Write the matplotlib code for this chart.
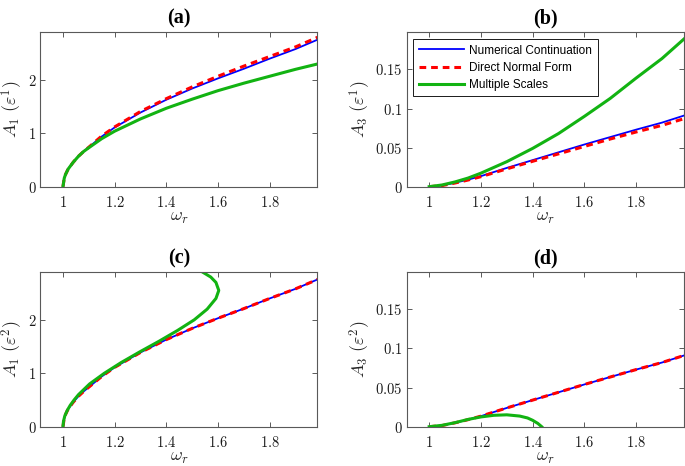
import numpy as np
import matplotlib
matplotlib.use("Agg")
import matplotlib.pyplot as plt
from matplotlib.ticker import FuncFormatter

# ============================================================================
# data
# ============================================================================

# A1, first order (panel a)
w_a_num = [1.0, 1.005, 1.01, 1.02, 1.04, 1.06, 1.08, 1.1, 1.15, 1.2, 1.3, 1.4, 1.5, 1.6, 1.7, 1.8, 1.9, 1.985]
A1_num = [0.0, 0.16, 0.23, 0.33, 0.46, 0.57, 0.66, 0.74, 0.94, 1.11, 1.39, 1.63, 1.84, 2.03, 2.21, 2.40, 2.58, 2.755]
A1_dnf_a = [0.0, 0.16, 0.23, 0.33, 0.46, 0.57, 0.66, 0.74, 0.95, 1.12, 1.41, 1.65, 1.87, 2.07, 2.26, 2.44, 2.62, 2.80]
w_a_ms = [1.0, 1.005, 1.01, 1.02, 1.04, 1.06, 1.08, 1.1, 1.15, 1.2, 1.3, 1.4, 1.5, 1.6, 1.7, 1.8, 1.9, 1.985]
A1_ms_a = [0.0, 0.16, 0.23, 0.33, 0.46, 0.57, 0.66, 0.73, 0.90, 1.04, 1.27, 1.47, 1.64, 1.80, 1.94, 2.07, 2.20, 2.30]

# A3, first order (panel b)
w_b = [1.0, 1.05, 1.1, 1.15, 1.2, 1.3, 1.4, 1.5, 1.6, 1.7, 1.8, 1.9, 1.985]
A3_num = [0.0, 0.0015, 0.005, 0.009, 0.0135, 0.024, 0.034, 0.044, 0.054, 0.0635, 0.073, 0.082, 0.091]
A3_dnf_b = [0.0, 0.0014, 0.0047, 0.0085, 0.0128, 0.0228, 0.0325, 0.042, 0.0515, 0.061, 0.070, 0.0785, 0.087]
A3_ms_b = [0.0, 0.0022, 0.0061, 0.011, 0.0173, 0.032, 0.049, 0.068, 0.090, 0.113, 0.139, 0.164, 0.189]

# A1, second order (panel c): multiple scales folds back, so given as w(A)
A1_ms_c = [0.0, 0.1, 0.2, 0.3, 0.4, 0.5, 0.6, 0.8, 1.0, 1.2, 1.4, 1.6, 1.8, 2.0, 2.2, 2.4, 2.55, 2.7, 2.8, 2.9]
w_c_ms = [1.0, 1.002, 1.007, 1.016, 1.028, 1.043, 1.06, 1.103, 1.16, 1.225, 1.297, 1.372, 1.443, 1.508, 1.558, 1.592, 1.603, 1.592, 1.572, 1.538]

# A3, second order (panel d)
w_d_ms = [1.0, 1.05, 1.1, 1.15, 1.2, 1.25, 1.3, 1.35, 1.38, 1.4, 1.42, 1.435]
A3_ms_d = [0.0, 0.0018, 0.0052, 0.0093, 0.0125, 0.0146, 0.0152, 0.0136, 0.0112, 0.0082, 0.0042, 0.0]

xticks = [1, 1.2, 1.4, 1.6, 1.8]
yticks_A1 = [0, 1, 2]
yticks_A3 = [0, 0.05, 0.1, 0.15]
titles = ["(a)", "(b)", "(c)", "(d)"]
ylabels = [r"$A_1\ (\varepsilon^1)$", r"$A_3\ (\varepsilon^1)$",
           r"$A_1\ (\varepsilon^2)$", r"$A_3\ (\varepsilon^2)$"]

# ============================================================================
# style
# ============================================================================

plt.rcParams.update({'mathtext.fontset': 'cm', 'font.size': 9})
blue = '#0000ff'
red = '#ff0000'
green = '#12b312'
axcol = '0.35'

fig = plt.figure(figsize=(6.85, 4.66), dpi=100)
positions = [[0.0591, 0.5994, 0.4044, 0.332],
             [0.5937, 0.5994, 0.4048, 0.332],
             [0.0591, 0.0843, 0.4044, 0.3326],
             [0.5937, 0.0843, 0.4048, 0.3326]]
axes = [fig.add_axes(p) for p in positions]

fmt = FuncFormatter(lambda v, pos: r"$%g$" % round(v, 3))
dash = (0, (2.2, 1.6))

# panel a
ax = axes[0]
ax.plot(w_a_num, A1_num, color=blue, lw=1.3)
ax.plot(w_a_num, A1_dnf_a, color=red, lw=2.2, ls=dash)
ax.plot(w_a_ms, A1_ms_a, color=green, lw=2.2)

# panel b
ax = axes[1]
ax.plot(w_b, A3_num, color=blue, lw=1.3, label="Numerical Continuation")
ax.plot(w_b, A3_dnf_b, color=red, lw=2.2, ls=dash, label="Direct Normal Form")
ax.plot(w_b, A3_ms_b, color=green, lw=2.2, label="Multiple Scales")
leg = ax.legend(loc='upper left', bbox_to_anchor=(0.024, 0.953),
                prop={'family': 'Liberation Sans', 'size': 8.5},
                fancybox=False, framealpha=1, edgecolor='0.1',
                handlelength=3.8, labelspacing=0.45, borderpad=0.45,
                handletextpad=0.5, borderaxespad=0)
leg.get_frame().set_linewidth(0.7)

# panel c
ax = axes[2]
ax.plot(w_a_num, A1_num, color=blue, lw=1.3)
ax.plot(w_a_num, A1_num, color=red, lw=2.2, ls=dash)
ax.plot(w_c_ms, A1_ms_c, color=green, lw=2.2)

# panel d
ax = axes[3]
ax.plot(w_b, A3_num, color=blue, lw=1.3)
ax.plot(w_b, A3_num, color=red, lw=2.2, ls=dash)
ax.plot(w_d_ms, A3_ms_d, color=green, lw=2.2)

for i, ax in enumerate(axes):
    ax.set_xlim(0.913, 1.985)
    if i % 2 == 0:
        ax.set_ylim(0, 2.9)
        ax.set_yticks(yticks_A1)
    else:
        ax.set_ylim(0, 0.198)
        ax.set_yticks(yticks_A3)
    ax.set_xticks(xticks)
    ax.xaxis.set_major_formatter(fmt)
    ax.yaxis.set_major_formatter(fmt)
    ax.tick_params(direction='in', length=3.5, width=0.7, colors=axcol,
                   labelcolor='0.1', labelsize=10.5, top=True, right=True)
    ax.tick_params(axis='x', pad=6)
    ax.tick_params(axis='y', pad=3)
    for s in ax.spines.values():
        s.set_color(axcol)
        s.set_linewidth(0.8)
    ax.set_title(titles[i], fontsize=14.5, fontweight='bold',
                 family='Liberation Serif', pad=6)
    ax.set_xlabel(r"$\omega_r$", fontsize=13, color='0.15', labelpad=-1.5)
    ax.set_ylabel(ylabels[i], fontsize=13, color='0.15', labelpad=1.5)

fig.savefig("out.png", dpi=100)
